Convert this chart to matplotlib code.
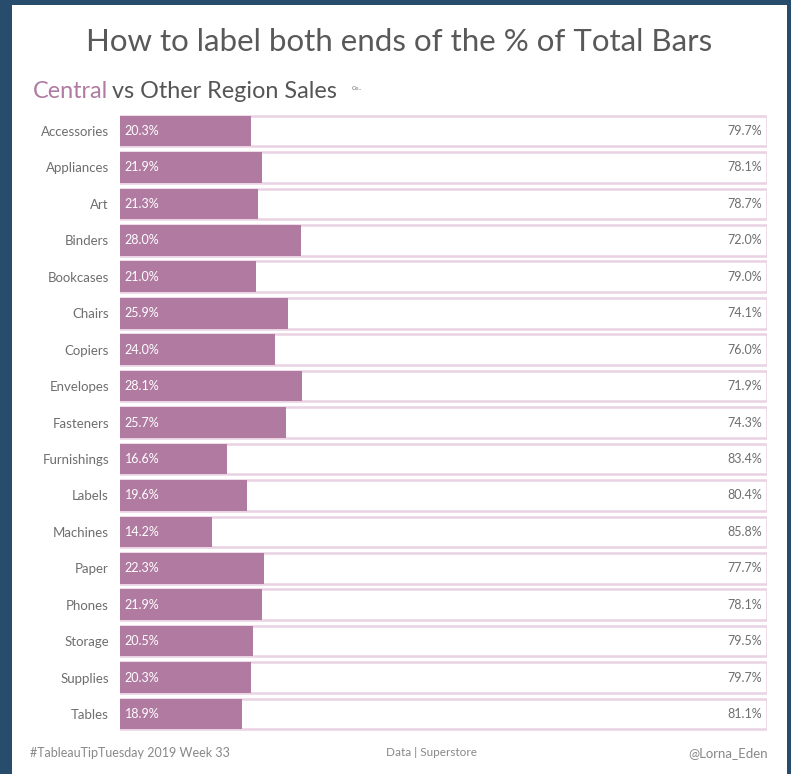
import matplotlib.pyplot as plt

categories = ['Accessories', 'Appliances', 'Art', 'Binders', 'Bookcases', 'Chairs',
              'Copiers', 'Envelopes', 'Fasteners', 'Furnishings', 'Labels', 'Machines',
              'Paper', 'Phones', 'Storage', 'Supplies', 'Tables']
central = [20.3, 21.9, 21.3, 28.0, 21.0, 25.9, 24.0, 28.1, 25.7, 16.6,
           19.6, 14.2, 22.3, 21.9, 20.5, 20.3, 18.9]
other = [79.7, 78.1, 78.7, 72.0, 79.0, 74.1, 76.0, 71.9, 74.3, 83.4,
         80.4, 85.8, 77.7, 78.1, 79.5, 79.7, 81.1]

PURPLE = '#b07aa1'
EDGE = '#e9d2e3'
GREY = '#6e6e6e'
BORDER = '#284c6c'

plt.rcParams['font.family'] = ['Lato', 'DejaVu Sans']

fig = plt.figure(figsize=(7.91, 7.74), dpi=100)
fig.patch.set_facecolor(BORDER)
# white panel inside the dark frame
fig.patches.append(plt.Rectangle((12/791, 0), (787-12)/791, 1 - 5/774,
                                 transform=fig.transFigure, facecolor='white',
                                 edgecolor='none', zorder=-5))

ax = fig.add_axes([120/791, 0.0539, (767-120)/791, 0.8543-0.0539])
ax.set_zorder(2)
ax.set_facecolor('none')
y = list(range(len(categories)))
totals = [c + o for c, o in zip(central, other)]
ax.barh(y, totals, height=0.84, color='white', edgecolor=EDGE, linewidth=1.8, zorder=1)
ax.barh(y, central, height=0.84, color=PURPLE, edgecolor='none', zorder=2)

for i in y:
    ax.text(0.7, i, f'{central[i]:.1f}%', color='white', fontsize=9,
            va='center', ha='left', zorder=3)
    ax.text(99.2, i, f'{other[i]:.1f}%', color=GREY, fontsize=9,
            va='center', ha='right', zorder=3)

ax.set_xlim(0, 100)
ax.set_ylim(len(categories) - 0.5, -0.5)
ax.set_yticks(y)
ax.set_yticklabels(categories, fontsize=9.5, color=GREY)
ax.tick_params(axis='y', length=0, pad=8)
ax.set_xticks([])
for s in ax.spines.values():
    s.set_visible(False)

fig.text(399/791, 1 - 42/774, 'How to label both ends of the % of Total Bars',
         ha='center', va='center', fontsize=22.5, color='#595959')
t1 = fig.text(33/791, 1 - 92/774, 'Central', ha='left', va='center',
              fontsize=16.8, color=PURPLE)
fig.canvas.draw()
bb = t1.get_window_extent()
fig.text((bb.x1 + 4)/791, 1 - 92/774, 'vs Other Region Sales', ha='left',
         va='center', fontsize=16.8, color='#555555')
fig.text(352/791, 1 - 89/774, 'Ce..', ha='left', va='center', fontsize=4.5, color=GREY)

fig.text(30/791, 1 - 753/774, '#TableauTipTuesday 2019 Week 33', ha='left',
         va='center', fontsize=9, color='#888888')
fig.text(432/791, 1 - 753/774, 'Data | Superstore', ha='center',
         va='center', fontsize=8.5, color='#888888')
fig.text(768/791, 1 - 753/774, '@Lorna_Eden', ha='right',
         va='center', fontsize=9.5, color='#888888')

fig.savefig('out.png', dpi=100, facecolor=fig.get_facecolor())
